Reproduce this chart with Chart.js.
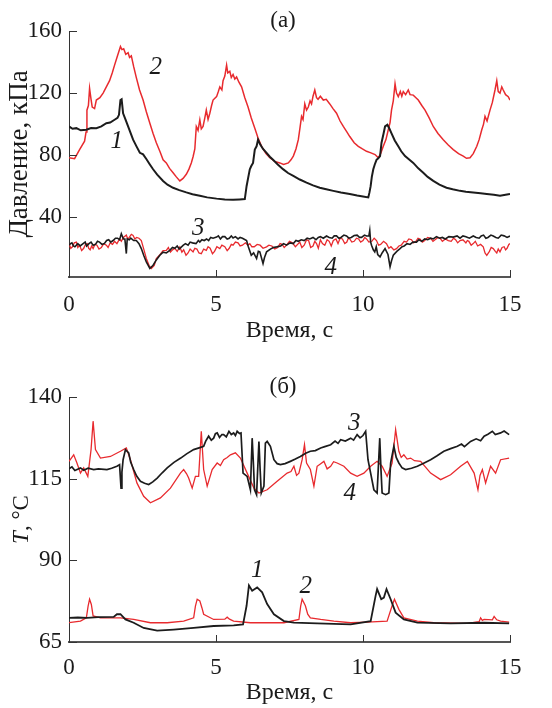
<!DOCTYPE html>
<html>
<head>
<meta charset="utf-8">
<script src="https://cdn.jsdelivr.net/npm/chart.js@4.4.1/dist/chart.umd.min.js"></script>
<style>
  html, body { margin: 0; padding: 0; background: #fff; }
  #wrap { position: relative; width: 552px; height: 708px; }
  canvas { position: absolute; left: 0; top: 0; }
</style>
</head>
<body>
<div id="wrap">
  <canvas id="cB" width="552" height="708"></canvas>
  <canvas id="cA" width="552" height="708"></canvas>
</div>
<script>
// ---------- DATA ----------
const xTicks = [0, 5, 10, 15];
const pressureTicks = [40, 80, 120, 160];
const tempTicks = [65, 90, 115, 140];

// Panel (а): pressure, kPa  [time s, value]
const pressure1 = [[0,98.5],[0.12,97],[0.25,97.4],[0.4,96],[0.59,96.4],[0.75,97.5],[0.93,97.4],[1.1,98.5],[1.27,100.6],[1.4,101],[1.55,102.8],[1.65,104],[1.7,106],[1.75,115.5],[1.79,116],[1.84,107],[1.92,103],[2.01,98.5],[2.1,94],[2.18,90],[2.3,85.5],[2.41,81.5],[2.52,80.5],[2.63,77.5],[2.75,74],[2.86,70.9],[3.0,67.5],[3.2,63.4],[3.35,61],[3.54,59],[3.75,57.5],[3.99,56],[4.2,54.8],[4.45,53.8],[4.7,52.8],[5.02,52],[5.3,51.5],[5.58,51.3],[5.8,51.5],[5.98,51.7],[6.04,60],[6.1,66],[6.15,70.9],[6.2,73],[6.26,75],[6.32,83.6],[6.38,85.7],[6.43,90],[6.5,87],[6.6,84],[6.72,81.5],[6.83,79],[6.94,77],[7.1,74],[7.28,71],[7.45,68.5],[7.63,66.6],[7.85,64.3],[8.08,62.3],[8.3,60.5],[8.53,59],[8.75,58],[8.99,57],[9.25,56],[9.55,55],[9.8,54],[10.0,53.4],[10.18,52.8],[10.22,56],[10.26,60],[10.3,66],[10.35,70.9],[10.4,74],[10.46,77],[10.52,78],[10.58,79.4],[10.63,88],[10.7,94],[10.75,98.5],[10.83,99.6],[10.9,97],[10.97,94],[11.08,89.5],[11.2,85.7],[11.3,82.5],[11.43,79.4],[11.55,77.5],[11.71,75],[11.88,71.5],[12.05,68.7],[12.2,66],[12.39,63.4],[12.6,61],[12.84,59],[13.05,58],[13.3,57],[13.5,56.5],[13.75,56],[14.0,55.5],[14.21,55],[14.45,54.5],[14.66,53.8],[14.85,54.5],[15.0,55]];

const pressure2 = [[0,78.3],[0.19,77.7],[0.36,83.6],[0.53,89],[0.58,95],[0.61,109],[0.66,112],[0.7,123],[0.75,116],[0.79,111],[0.87,110],[0.93,115.5],[1.05,117],[1.16,120],[1.27,124],[1.38,128],[1.47,133],[1.55,138],[1.65,144],[1.75,150],[1.8,148],[1.86,148.5],[1.93,145],[2.01,146],[2.06,143],[2.12,144],[2.2,137],[2.29,130],[2.4,122],[2.52,115.5],[2.63,108],[2.75,100.6],[2.86,94],[2.97,88],[3.1,82],[3.2,77],[3.31,75],[3.42,71.5],[3.54,68.7],[3.65,66],[3.77,63.4],[3.88,65],[3.99,67.7],[4.08,71],[4.16,75],[4.22,79],[4.28,84],[4.33,98.5],[4.39,96],[4.45,102.8],[4.5,97],[4.56,98.5],[4.62,104],[4.67,109],[4.73,103],[4.79,107],[4.85,112],[4.9,115.5],[5.02,117.7],[5.08,121],[5.13,124],[5.2,122],[5.24,128],[5.3,131],[5.36,138],[5.4,133],[5.47,134],[5.52,130],[5.58,132],[5.64,129],[5.7,130.4],[5.78,127],[5.87,124],[5.98,117],[6.09,111],[6.2,104],[6.32,97.4],[6.43,91],[6.55,85.7],[6.7,81],[6.83,78.3],[7.0,76],[7.17,75],[7.3,74],[7.46,75],[7.55,77],[7.63,79.4],[7.72,84],[7.8,90],[7.86,98],[7.91,105],[7.96,103],[8.02,113],[8.08,109],[8.14,111],[8.2,115],[8.25,113],[8.3,118],[8.36,122],[8.42,117],[8.47,116],[8.55,118],[8.65,115.5],[8.75,116],[8.87,113],[8.98,110],[9.1,107],[9.22,102],[9.33,98.5],[9.45,95],[9.55,92],[9.7,88],[9.84,85.7],[9.98,84],[10.12,82.5],[10.27,81.5],[10.41,80.4],[10.52,78.3],[10.6,81],[10.69,85.7],[10.78,90],[10.86,96.4],[10.92,101],[10.97,109],[11.03,115],[11.09,126],[11.14,120],[11.2,117.7],[11.27,121],[11.32,118],[11.37,121],[11.45,119],[11.54,122],[11.6,119],[11.71,118.7],[11.8,117],[11.88,115.5],[12.0,112],[12.11,109],[12.25,104],[12.39,98.5],[12.55,94],[12.73,90],[12.9,86.5],[13.07,83.6],[13.25,81],[13.41,79.4],[13.52,78],[13.64,78.3],[13.75,81],[13.87,85.7],[13.95,90],[14.04,96.4],[14.1,100],[14.15,105],[14.22,102],[14.32,109],[14.4,114],[14.49,122],[14.55,128],[14.6,121],[14.66,120],[14.72,124],[14.77,122],[14.85,119],[14.94,117.7],[15.0,115.5]];

const pressure3 = [[0,21.9],[0.05,23],[0.1,23.5],[0.15,21.5],[0.2,21],[0.3,23],[0.38,21.5],[0.48,23],[0.55,24],[0.6,21.5],[0.68,23],[0.75,24],[0.82,22],[0.9,22.5],[0.97,24.5],[1.04,24],[1.12,22.5],[1.2,23],[1.28,25],[1.35,25.5],[1.42,24],[1.5,25],[1.58,26.5],[1.65,26.5],[1.72,25.5],[1.78,29.4],[1.85,26],[1.9,26],[1.95,16.6],[1.98,26],[2.05,25.5],[2.1,26.5],[2.2,25],[2.29,25],[2.38,23],[2.46,19.8],[2.55,15],[2.63,11.3],[2.75,7],[2.86,9.1],[2.97,12.5],[3.09,15.5],[3.2,17.5],[3.31,17],[3.43,18.7],[3.52,20.5],[3.6,20],[3.68,21.5],[3.75,19.5],[3.88,21.9],[3.96,23],[4.05,22],[4.12,24],[4.2,23.5],[4.32,23],[4.4,25],[4.45,24],[4.52,25.5],[4.6,25],[4.68,26],[4.75,25],[4.82,27],[4.9,26.5],[5.02,27.2],[5.08,28],[5.15,26],[5.22,27.5],[5.3,27.5],[5.38,26],[5.45,26.5],[5.52,28],[5.58,26.6],[5.66,27.5],[5.75,26],[5.82,27],[5.9,26.5],[6.04,25],[6.1,21],[6.2,15.5],[6.28,17],[6.38,13.4],[6.44,18],[6.49,17.7],[6.6,10.2],[6.65,14],[6.72,17.7],[6.85,19.5],[6.95,20.5],[7.06,20.9],[7.2,21.5],[7.3,23],[7.4,22],[7.52,23.5],[7.63,23],[7.72,25],[7.8,24.5],[7.9,25.5],[8.0,25],[8.1,26.5],[8.19,26],[8.3,27],[8.4,25.5],[8.48,27],[8.55,27.5],[8.65,26.5],[8.76,27.9],[8.85,27],[8.95,26.5],[9.02,28],[9.1,28],[9.18,26.5],[9.25,27],[9.35,28.5],[9.44,27.9],[9.52,26.5],[9.6,27],[9.7,28.2],[9.8,28.5],[9.88,27],[9.95,27],[10.05,28.5],[10.12,27.9],[10.2,28],[10.23,31.5],[10.26,24],[10.29,22],[10.35,19],[10.4,17.7],[10.45,21],[10.5,16],[10.58,14.5],[10.65,17],[10.75,19.8],[10.85,16],[10.92,8.1],[10.97,12],[11.03,15.5],[11.15,18],[11.26,19.8],[11.33,21],[11.4,21.5],[11.5,23],[11.6,22.5],[11.7,24],[11.82,24],[11.9,25.5],[12.0,24.5],[12.1,26],[12.2,25.5],[12.3,26.5],[12.39,26],[12.5,27.5],[12.6,26.5],[12.7,27],[12.8,26],[12.92,27.5],[13.07,27.2],[13.2,28],[13.3,26.5],[13.4,28],[13.5,27.5],[13.62,26.5],[13.75,27.9],[13.85,27],[13.95,26.5],[14.02,28],[14.1,28.5],[14.18,26.5],[14.25,27],[14.35,28.5],[14.43,27.9],[14.52,27],[14.6,26.5],[14.7,28.5],[14.8,28],[14.9,27],[15.0,27.9]];

const pressure4 = [[0,23],[0.06,20],[0.12,21],[0.18,23.5],[0.25,24],[0.3,20.5],[0.36,22],[0.43,18.5],[0.5,20],[0.56,22.5],[0.62,23],[0.67,20],[0.72,19],[0.77,21.5],[0.82,19.8],[0.88,22.5],[0.95,22],[1.02,19.5],[1.1,20.5],[1.18,23],[1.27,22],[1.33,20.5],[1.4,23.5],[1.48,22.5],[1.55,24.5],[1.63,23],[1.72,26],[1.78,24.5],[1.85,27],[1.95,28.5],[2.0,26],[2.05,27],[2.12,29],[2.18,28.3],[2.24,26],[2.3,27],[2.38,26.5],[2.46,25],[2.55,19],[2.63,13.4],[2.72,9],[2.8,7],[2.9,9],[2.97,13.4],[3.1,16],[3.2,18.5],[3.31,18.7],[3.38,20.5],[3.45,17.5],[3.52,19],[3.6,20],[3.68,18],[3.77,20.9],[3.84,17.5],[3.9,19],[3.98,15.5],[4.05,17],[4.12,19.5],[4.22,17.7],[4.28,20],[4.35,19.5],[4.42,17],[4.5,16.5],[4.58,19.5],[4.67,18.7],[4.73,21],[4.8,20],[4.88,16.5],[4.95,18],[5.03,21],[5.13,19.8],[5.2,22],[5.3,21],[5.38,18.5],[5.45,20],[5.52,22.5],[5.58,22],[5.66,24],[5.75,23.5],[5.82,21.5],[5.9,22],[6.0,23.5],[6.08,22],[6.15,23],[6.22,21],[6.3,21],[6.4,22.5],[6.5,22],[6.6,20],[6.72,20.9],[6.8,22],[6.9,21.5],[7.0,19.5],[7.1,20.5],[7.18,23],[7.25,22.5],[7.32,20.5],[7.4,22],[7.5,24.5],[7.6,23.5],[7.7,21],[7.85,24],[7.92,20.5],[8.0,22],[8.08,25.5],[8.15,25],[8.22,20.5],[8.3,21.5],[8.36,24.5],[8.42,23],[8.48,20],[8.55,25.5],[8.62,23],[8.7,22],[8.78,25.5],[8.85,24.5],[8.92,21.5],[8.99,25],[9.08,26],[9.15,23],[9.22,26.5],[9.3,26],[9.38,23],[9.45,24],[9.5,26.5],[9.55,26],[9.62,24],[9.7,24.5],[9.78,26.5],[9.85,26],[9.92,24],[10.0,25],[10.06,27],[10.12,26],[10.2,24],[10.3,24.5],[10.38,26.5],[10.46,25],[10.53,22],[10.6,22.5],[10.7,24.5],[10.8,23],[10.88,20],[10.95,21],[11.05,19],[11.14,19.8],[11.22,21.5],[11.3,22],[11.4,24.5],[11.48,24],[11.56,26],[11.65,25.5],[11.72,23.5],[11.8,24.5],[11.87,26.5],[11.94,26],[12.02,24],[12.1,25],[12.2,27],[12.3,26.5],[12.38,24.5],[12.45,25.5],[12.55,27],[12.62,26.6],[12.7,24.5],[12.8,26],[12.9,25],[13.0,24.5],[13.08,26.5],[13.15,25.5],[13.22,23.5],[13.3,25],[13.4,25.5],[13.5,23.5],[13.55,25],[13.6,24.5],[13.68,22],[13.75,23],[13.82,24.5],[13.9,21.5],[14.0,22.5],[14.09,20.9],[14.15,17],[14.21,15.5],[14.3,18],[14.36,20.5],[14.43,19.8],[14.5,18],[14.55,17],[14.6,19.5],[14.66,17.7],[14.73,20.5],[14.8,21],[14.85,19],[14.9,20],[14.96,22.5],[15.0,23]];

// Panel (б): temperature, °C  [time s, value]
const temp1 = [[0,72.4],[0.3,72.5],[0.61,72.4],[1.0,72.6],[1.52,72.7],[1.63,73.5],[1.75,73.5],[1.92,71.9],[2.2,70.9],[2.54,69.3],[3.0,68.5],[3.56,68.8],[4.24,69.3],[4.92,69.9],[5.6,70.1],[5.92,70.4],[6.04,76.1],[6.12,82.3],[6.23,80.7],[6.4,81.7],[6.57,80.2],[6.74,76.6],[6.97,73.5],[7.31,71.4],[7.65,70.9],[8.44,70.7],[9.58,70.4],[10.26,71.4],[10.43,79.2],[10.48,81.2],[10.62,78.1],[10.71,78.6],[10.8,81.2],[10.94,78.1],[11.11,74],[11.39,71.9],[11.85,70.9],[12.98,70.7],[14.12,70.9],[14.97,70.7]];

const temp2 = [[0,70.9],[0.39,71.4],[0.59,72.4],[0.65,76],[0.7,78.1],[0.76,76.5],[0.82,73],[1.07,72.4],[1.75,72.4],[2.2,71.9],[2.77,70.9],[3.34,70.9],[3.9,71.4],[4.24,72.4],[4.3,76],[4.36,78.1],[4.45,77.6],[4.52,75.5],[4.58,73.5],[4.92,71.9],[5.3,72],[5.38,72.6],[5.46,72],[5.6,71.4],[6.17,70.9],[7.31,70.9],[7.82,71.9],[7.88,76],[7.93,78.1],[8.04,76.1],[8.12,73.5],[8.21,72.4],[8.56,71.9],[9.01,71.4],[9.58,70.9],[10.14,71.1],[10.82,71.4],[10.99,76.1],[11.07,78.1],[11.22,75],[11.39,72.4],[11.85,71.4],[12.41,70.9],[13.55,70.7],[13.95,71.2],[14.0,72.4],[14.06,71.6],[14.12,71.9],[14.4,71.8],[14.46,72.8],[14.55,71.8],[14.68,71.4],[14.97,71.1]];

const temp3 = [[0,118],[0.1,118.6],[0.2,117.5],[0.39,118.3],[0.5,117.6],[0.65,118.2],[0.84,117.8],[1.0,118],[1.29,117.8],[1.45,118.2],[1.63,118.8],[1.72,119.3],[1.77,112.1],[1.8,117],[1.84,120.8],[1.92,123.9],[2.03,122.9],[2.1,120],[2.2,117.8],[2.3,115.8],[2.43,114.2],[2.57,113.6],[2.71,113.2],[2.85,114],[3.0,115.2],[3.17,116.8],[3.34,118.3],[3.57,120],[3.8,121.3],[4.0,122.6],[4.24,123.9],[4.45,124.5],[4.58,124.9],[4.65,126.5],[4.75,128],[4.84,126.8],[4.92,127.4],[4.98,128.8],[5.04,129],[5.12,127.6],[5.2,128.5],[5.26,128.5],[5.35,127.8],[5.44,129.5],[5.52,128.5],[5.6,129],[5.66,128.2],[5.72,129.5],[5.8,128.8],[5.85,129],[5.92,116.7],[6.06,115.7],[6.17,111.6],[6.23,127.4],[6.27,120],[6.31,111.6],[6.38,110.1],[6.46,126.4],[6.5,118],[6.54,110.6],[6.63,112.7],[6.68,125.9],[6.74,126.4],[6.85,124.9],[6.97,120.8],[7.08,119.6],[7.19,119.3],[7.35,119.6],[7.53,120.3],[7.7,121],[7.87,121.8],[8.05,122.8],[8.21,123.4],[8.38,123.6],[8.56,124.4],[8.7,124.8],[8.9,125.4],[9.05,126.5],[9.15,125.8],[9.24,126.9],[9.4,126.5],[9.58,127.4],[9.68,126.8],[9.8,128.5],[9.9,127.5],[10.0,128.2],[10.09,129.5],[10.17,120.8],[10.26,116.7],[10.37,111.6],[10.48,110.6],[10.57,127.4],[10.61,118],[10.65,110.6],[10.77,110.1],[10.88,110.6],[10.94,119.8],[11.05,124.9],[11.13,121.5],[11.22,119.8],[11.33,118.3],[11.45,117.8],[11.65,118.2],[11.85,118.8],[12.08,119.8],[12.3,120.8],[12.52,122],[12.75,123.4],[12.98,124.2],[13.21,124.9],[13.35,125.6],[13.45,124.8],[13.66,126.4],[13.85,127.2],[14.0,126.6],[14.12,128],[14.25,128.6],[14.4,129.5],[14.5,128.5],[14.68,129],[14.8,129.6],[14.97,128.5]];

const temp4 = [[0,120.3],[0.16,122.3],[0.27,119.8],[0.39,116.7],[0.5,118.3],[0.64,115.7],[0.75,123.9],[0.82,132.6],[0.9,123.9],[1.07,121.3],[1.41,121.8],[1.75,123.4],[1.95,124.4],[2.09,120.8],[2.31,113.7],[2.54,109.6],[2.77,107.6],[3.11,109.1],[3.45,112.1],[3.79,116.7],[3.9,117.8],[4.0,116.5],[4.07,115.2],[4.19,112.1],[4.3,115.7],[4.41,115.7],[4.5,129.5],[4.58,117.8],[4.7,112.7],[4.87,117.8],[5.04,119.8],[5.15,119],[5.26,120.8],[5.38,121.5],[5.49,122.3],[5.66,122.9],[5.83,121.3],[6.06,116.7],[6.29,112.1],[6.46,110.6],[6.74,111.6],[7.08,114.2],[7.42,116.7],[7.55,117.2],[7.65,118.8],[7.74,116],[7.82,116.7],[7.93,120.8],[8.01,125.4],[8.08,119.8],[8.21,117.8],[8.33,112.7],[8.44,118.8],[8.55,119.5],[8.67,120.3],[8.78,118],[8.9,118.8],[9.0,120.2],[9.12,119.8],[9.35,118.8],[9.58,116.7],[9.8,115.7],[10.03,116.7],[10.26,118.8],[10.48,120.3],[10.65,118.8],[10.82,115.7],[10.99,119.8],[11.11,130],[11.22,123.4],[11.3,121.5],[11.39,122.3],[11.5,121],[11.62,121.3],[11.75,120.5],[11.96,120.3],[12.3,116.7],[12.64,114.7],[12.98,116.2],[13.32,118.8],[13.55,120.3],[13.78,116.7],[13.91,111.6],[13.98,116],[14.06,117.8],[14.17,113.7],[14.34,118.8],[14.51,116.7],[14.68,120.8],[14.97,121.3]];

// ---------- STYLE / LAYOUT ----------
const RED = '#e82a2e';
const BLACK = '#1c1c1c';
const SERIF = '"Liberation Serif", "Times New Roman", serif';

function toXY(arr) { return arr.map(p => ({ x: p[0], y: p[1] })); }
function line(arr, color, w) {
  return { data: toXY(arr), borderColor: color, borderWidth: w, pointRadius: 0, tension: 0, fill: false };
}

const decor = {
  id: 'decor',
  afterDraw(chart, args, o) {
    const ctx = chart.ctx, xs = chart.scales.x, ys = chart.scales.y, a = chart.chartArea;
    ctx.save();
    ctx.strokeStyle = '#333'; ctx.lineWidth = 1;
    ys.ticks.forEach(t => {
      const py = Math.round(ys.getPixelForValue(t.value)) + 0.5;
      ctx.beginPath(); ctx.moveTo(a.left, py); ctx.lineTo(a.left + 8, py); ctx.stroke();
    });
    xs.ticks.forEach(t => {
      if (t.value === 0) return;
      const px = Math.round(xs.getPixelForValue(t.value)) + 0.5;
      ctx.beginPath(); ctx.moveTo(px, a.bottom); ctx.lineTo(px, a.bottom - 7); ctx.stroke();
    });
    ctx.fillStyle = '#1a1a1a';
    ctx.font = '23px ' + SERIF; ctx.textAlign = 'center'; ctx.textBaseline = 'middle';
    ctx.fillText(o.panel, o.panelX, o.panelY);
    ctx.font = '24px ' + SERIF;
    ctx.fillText(o.xTitle, (a.left + a.right) / 2, o.xTitleY);
    ctx.save();
    ctx.translate(o.yTitleX, (a.top + a.bottom) / 2);
    ctx.rotate(-Math.PI / 2);
    ctx.textAlign = 'left';
    let total = 0;
    o.yTitle.forEach(part => { ctx.font = (part.italic ? 'italic ' : '') + o.yTitleSize + 'px ' + SERIF; total += ctx.measureText(part.text).width; });
    let cx = -total / 2;
    o.yTitle.forEach(part => {
      ctx.font = (part.italic ? 'italic ' : '') + o.yTitleSize + 'px ' + SERIF;
      ctx.fillText(part.text, cx, 0);
      cx += ctx.measureText(part.text).width;
    });
    ctx.restore();
    ctx.font = 'italic 25px ' + SERIF; ctx.textAlign = 'center';
    o.labels.forEach(l => {
      ctx.fillText(l.text, xs.getPixelForValue(l.t), ys.getPixelForValue(l.v));
    });
    ctx.restore();
  }
};

function makeChart(id, datasets, yMin, yMax, yTickVals, padTop, padBottom, xTickPad, dec) {
  return new Chart(document.getElementById(id), {
    type: 'line',
    data: { datasets },
    plugins: [decor],
    options: {
      responsive: false, animation: false, devicePixelRatio: 1,
      events: [],
      layout: { padding: { left: 0, right: 42, top: padTop, bottom: padBottom } },
      plugins: { legend: { display: false }, title: { display: false }, tooltip: { enabled: false }, decor: dec },
      scales: {
        x: {
          type: 'linear', min: 0, max: 15,
          afterBuildTicks: s => { s.ticks = xTicks.map(v => ({ value: v })); },
          afterFit: s => { s.height = 60; },
          grid: { display: false, drawTicks: false },
          border: { display: true, color: '#555', width: 2 },
          ticks: { color: '#1a1a1a', padding: xTickPad, font: { family: SERIF, size: 23 }, maxRotation: 0 }
        },
        y: {
          type: 'linear', min: yMin, max: yMax,
          afterBuildTicks: s => { s.ticks = yTickVals.map(v => ({ value: v })); },
          afterFit: s => { s.width = 69; },
          grid: { display: false, drawTicks: false },
          border: { display: true, color: '#333', width: 1 },
          ticks: { color: '#1a1a1a', padding: 7, font: { family: SERIF, size: 23 } }
        }
      }
    }
  });
}

makeChart('cA', [
  line(pressure3, BLACK, 1.6),
  line(pressure4, RED, 1.3),
  line(pressure1, BLACK, 2.0),
  line(pressure2, RED, 1.5)
], 1.5, 160, pressureTicks, 31, 371, 14, {
  panel: '(а)', panelX: 283, panelY: 21, xTitle: 'Время, с', xTitleY: 331,
  yTitleX: 20, yTitleSize: 27, yTitle: [{ text: 'Давление, кПа' }],
  labels: [{ text: '2', t: 2.95, v: 136.5 }, { text: '1', t: 1.62, v: 89 }, { text: '3', t: 4.4, v: 33 }, { text: '4', t: 8.9, v: 7.5 }]
});

makeChart('cB', [
  line(temp3, BLACK, 1.7),
  line(temp4, RED, 1.3),
  line(temp1, BLACK, 1.8),
  line(temp2, RED, 1.3)
], 65, 140, tempTicks, 397, 6, 12, {
  panel: '(б)', panelX: 283, panelY: 387, xTitle: 'Время, с', xTitleY: 693,
  yTitleX: 22, yTitleSize: 23, yTitle: [{ text: 'T', italic: true }, { text: ', °C' }],
  labels: [{ text: '3', t: 9.7, v: 132 }, { text: '4', t: 9.55, v: 110.4 }, { text: '1', t: 6.4, v: 87 }, { text: '2', t: 8.05, v: 82 }]
});
</script>
</body>
</html>
